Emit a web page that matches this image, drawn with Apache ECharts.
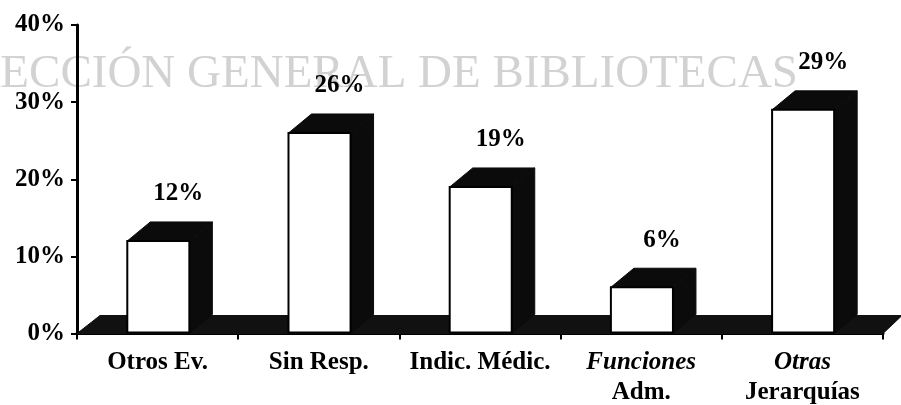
<!DOCTYPE html>
<html>
<head>
<meta charset="utf-8">
<script src="https://cdn.jsdelivr.net/npm/echarts@6/dist/echarts.min.js"></script>
<style>
  html, body { margin: 0; padding: 0; background: #fff; }
  #chart { width: 901px; height: 405px; }
</style>
</head>
<body>
<div id="chart"></div>
<script>
// data
const categories = ['Otros Ev.', 'Sin Resp.', 'Indic. Médic.', 'Funciones\nAdm.', 'Otras\nJerarquías']
const values = [12, 26, 19, 6, 29]
const italicWords = ['Funciones', 'Otras']
const watermark = 'DIRECCIÓN GENERAL DE BIBLIOTECAS'

const FONT = '"Liberation Serif", "Times New Roman", serif'
const DX = 23   // depth offset
const DY = 19

const chart = echarts.init(document.getElementById('chart'))

// 3D bar
function renderBar(params, api) {
  const top = api.coord([api.value(0), api.value(1)])
  const base = api.coord([api.value(0), 0])
  const bw = api.size([1, 0])[0]
  const w = bw * 0.385
  const x0 = base[0] - bw * 0.188
  const x1 = x0 + w
  const yt = top[1]
  const yb = base[1]
  return {
    type: 'group',
    children: [
      {
        type: 'polygon',
        shape: { points: [[x1, yt], [x1 + DX, yt - DY], [x1 + DX, yb - DY], [x1, yb]] },
        style: { fill: '#0b0b0b', stroke: '#0b0b0b', lineWidth: 1 }
      },
      {
        type: 'polygon',
        shape: { points: [[x0, yt], [x1, yt], [x1 + DX, yt - DY], [x0 + DX, yt - DY]] },
        style: { fill: '#0b0b0b', stroke: '#0b0b0b', lineWidth: 1 }
      },
      {
        type: 'rect',
        shape: { x: x0, y: yt, width: w, height: yb - yt - 1 },
        style: { fill: '#fff', stroke: '#000', lineWidth: 2 }
      },
      {
        type: 'text',
        style: {
          text: api.value(1) + '%',
          x: x0 + w / 2 + 20,
          y: yt - DY - 28,
          align: 'center',
          verticalAlign: 'middle',
          font: 'bold 25px ' + FONT,
          fill: '#000'
        }
      }
    ]
  }
}

// dark floor under the bars
function renderFloor(params) {
  const cs = params.coordSys
  const yb = cs.y + cs.height
  return {
    type: 'polygon',
    shape: {
      points: [[cs.x, yb], [cs.x + cs.width, yb], [cs.x + cs.width + DX - 4, yb - DY + 1], [cs.x + DX, yb - DY + 1]]
    },
    style: { fill: '#111', stroke: '#111', lineWidth: 1 }
  }
}

const option = {
  backgroundColor: '#fff',
  animation: false,
  graphic: [
    {
      type: 'text',
      right: 103,
      top: 51,
      z: -10,
      style: {
        text: watermark,
        font: '47px ' + FONT,
        fill: '#d2d2d2'
      }
    }
  ],
  grid: { left: 77, right: 18, top: 25, bottom: 70 },
  xAxis: {
    type: 'category',
    data: categories,
    boundaryGap: true,
    axisLine: { lineStyle: { color: '#000', width: 3 } },
    axisTick: { show: true, length: 6, lineStyle: { color: '#000', width: 2 } },
    axisLabel: {
      margin: 14,
      interval: 0,
      formatter: (v) => v.split('\n').map(s => italicWords.includes(s) ? '{it|' + s + '}' : '{n|' + s + '}').join('\n'),
      rich: {
        n: { fontFamily: FONT, fontWeight: 'bold', fontSize: 25, lineHeight: 30, color: '#000' },
        it: { fontFamily: FONT, fontWeight: 'bold', fontStyle: 'italic', fontSize: 25, lineHeight: 30, color: '#000' }
      }
    },
    splitLine: { show: false }
  },
  yAxis: {
    type: 'value',
    min: 0,
    max: 40,
    interval: 10,
    axisLine: { show: true, lineStyle: { color: '#000', width: 3 } },
    axisTick: { show: true, length: 6, lineStyle: { color: '#000', width: 2 } },
    axisLabel: {
      formatter: '{value}%',
      margin: 12,
      fontFamily: FONT,
      fontWeight: 'bold',
      fontSize: 25,
      color: '#000'
    },
    splitLine: { show: false }
  },
  series: [
    {
      type: 'custom',
      z: 1,
      renderItem: renderFloor,
      data: [[0, 0]]
    },
    {
      type: 'custom',
      z: 2,
      renderItem: renderBar,
      data: values.map((v, i) => [i, v])
    }
  ]
}

chart.setOption(option)
</script>
</body>
</html>
